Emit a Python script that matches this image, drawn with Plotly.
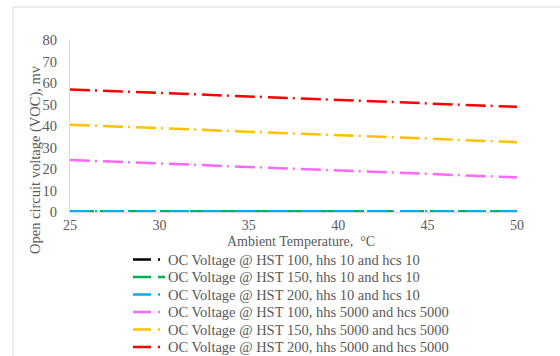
import plotly.graph_objects as go

temps = [25, 30, 35, 40, 45, 50]
names = [
    "OC Voltage @ HST 100, hhs 10 and hcs 10",
    "OC Voltage @ HST 150, hhs 10 and hcs 10",
    "OC Voltage @ HST 200, hhs 10 and hcs 10",
    "OC Voltage @ HST 100, hhs 5000 and hcs 5000",
    "OC Voltage @ HST 150, hhs 5000 and hcs 5000",
    "OC Voltage @ HST 200, hhs 5000 and hcs 5000",
]
v_hst100_low = [0.2, 0.2, 0.2, 0.2, 0.2, 0.2]
v_hst150_low = [0.3, 0.3, 0.3, 0.3, 0.3, 0.3]
v_hst200_low = [0.4, 0.4, 0.4, 0.4, 0.4, 0.4]
v_hst100_high = [24.2, 22.6, 21.0, 19.4, 17.7, 16.1]
v_hst150_high = [40.6, 39.0, 37.4, 35.9, 34.3, 32.5]
v_hst200_high = [57.0, 55.3, 53.7, 52.1, 50.5, 48.9]
x_ticks = [25, 30, 35, 40, 45, 50]
y_ticks = [0, 10, 20, 30, 40, 50, 60, 70, 80]

series = [v_hst100_low, v_hst150_low, v_hst200_low, v_hst100_high, v_hst150_high, v_hst200_high]
colors = ["#000000", "#00b050", "#00b0f0", "#ff66ff", "#ffc000", "#ff0000"]
dashes = ["20px,5px,2px,6px", "24px,6px", "20px,5px,2px,6px",
          "20px,5px,2px,6px", "20px,5px,2px,6px", "20px,5px,2px,6px"]
legend_tail = [2, 7, 2, 2, 2, 2]  # length of the short mark after the sample line

W, H = 560, 356
L, R, T, B = 70, 43, 40, 144
pw, ph = W - L - R, H - T - B


def px(x):
    return (x - L) / pw


def py(y):
    return (H - B - y) / ph


fig = go.Figure()
for n, v, c, d in zip(names, series, colors, dashes):
    fig.add_trace(go.Scatter(x=temps, y=v, name=n, mode="lines", showlegend=False,
                             line=dict(color=c, width=2.5, dash=d)))

font = "Liberation Serif, Times New Roman, serif"
grey = "#595959"
fs = 14.5
fsx = 14

shapes = [dict(type="rect", xref="paper", yref="paper",
               x0=px(13), x1=px(600), y0=py(400), y1=py(7),
               line=dict(color="#d9d9d9", width=1), fillcolor="rgba(0,0,0,0)",
               layer="below")]
annotations = []
row0, gap = 259.5, 17.5
for i, (n, c, tail) in enumerate(zip(names, colors, legend_tail)):
    yy = row0 + i * gap
    shapes.append(dict(type="line", xref="paper", yref="paper",
                       x0=px(133), x1=px(151), y0=py(yy), y1=py(yy),
                       line=dict(color=c, width=2.5)))
    shapes.append(dict(type="line", xref="paper", yref="paper",
                       x0=px(158), x1=px(158 + tail), y0=py(yy), y1=py(yy),
                       line=dict(color=c, width=2.5)))
    annotations.append(dict(text=n, xref="paper", yref="paper", x=px(166), y=py(yy),
                            xanchor="left", yanchor="middle", showarrow=False,
                            font=dict(family=font, size=fs, color=grey)))

annotations.append(dict(text="Ambient Temperature,  °C", xref="paper", yref="paper",
                        x=px(301), y=py(241), xanchor="center", yanchor="middle",
                        showarrow=False, font=dict(family=font, size=fsx, color=grey)))
annotations.append(dict(text="Open circuit voltage (VOC), mv", xref="paper", yref="paper",
                        x=px(35), y=py(160), xanchor="center", yanchor="middle",
                        textangle=-90, showarrow=False,
                        font=dict(family=font, size=fs, color=grey)))

fig.update_layout(
    width=W, height=H,
    margin=dict(l=L, r=R, t=T, b=B, autoexpand=False),
    paper_bgcolor="white", plot_bgcolor="white",
    font=dict(family=font, size=fs, color=grey),
    showlegend=False,
    xaxis=dict(range=[25, 50], tickvals=x_ticks, showgrid=False,
               zeroline=False, showline=True, linecolor="#d9d9d9", ticks="",
               ticklabelstandoff=0,
               tickfont=dict(family=font, size=fsx, color=grey)),
    yaxis=dict(range=[0, 80], tickvals=y_ticks, showgrid=False,
               zeroline=False, showline=True, linecolor="#d9d9d9", ticks="",
               ticklabelstandoff=9,
               tickfont=dict(family=font, size=fs, color=grey)),
    shapes=shapes,
    annotations=annotations,
)
fig.write_html("out.html")
